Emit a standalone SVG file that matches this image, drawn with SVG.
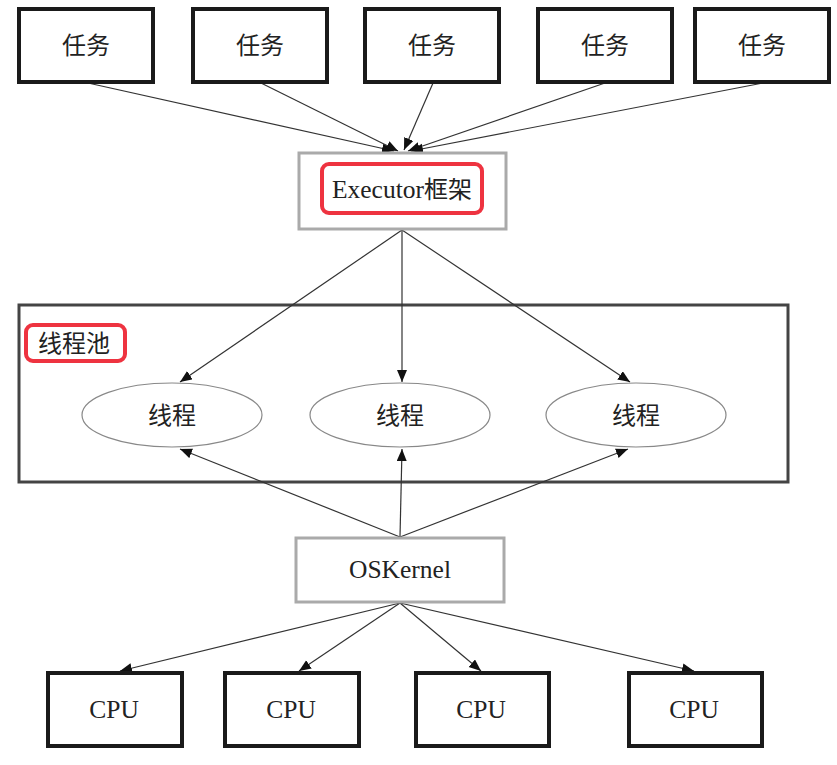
<svg xmlns="http://www.w3.org/2000/svg" width="837" height="765" viewBox="0 0 837 765">
<style>
.task{fill:#fff;stroke:#1a1a1a;stroke-width:4}
.gray{fill:#fff;stroke:#aaaaaa;stroke-width:3}
.pool{fill:none;stroke:#444;stroke-width:3}
.ell{fill:#fff;stroke:#888;stroke-width:1.2}
.hl{fill:none;stroke:#ee3340;stroke-width:4}
.t{font-family:"Liberation Serif","Noto Sans CJK SC",serif;font-size:24px;fill:#222;text-anchor:middle}
.l{font-size:25.5px}
.con line{stroke:#333;stroke-width:1.2;marker-end:url(#ah)}
</style>
<defs>
<marker id="ah" markerUnits="userSpaceOnUse" markerWidth="13" markerHeight="11" refX="12" refY="5" orient="auto">
<path d="M0,0 L12,5 L0,10 z" fill="#111"/>
</marker>
</defs>
<rect width="837" height="765" fill="#fff"/>
<g id="pool">
<rect class="pool" x="19" y="305" width="769" height="177"/>
<rect class="hl" x="26" y="325" width="99" height="36" rx="7"/>
<text class="t" x="74" y="352">线程池</text>
</g>
<g class="con">
<line x1="88" y1="83" x2="394" y2="151"/>
<line x1="261" y1="83" x2="398" y2="151"/>
<line x1="433" y1="83" x2="404" y2="150"/>
<line x1="605" y1="83" x2="408" y2="151"/>
<line x1="763" y1="83" x2="411" y2="151"/>
<line x1="402" y1="230" x2="180" y2="382"/>
<line x1="402" y1="230" x2="402" y2="382"/>
<line x1="402" y1="230" x2="630" y2="382"/>
<line x1="400" y1="537" x2="180" y2="449"/>
<line x1="400" y1="537" x2="402" y2="449"/>
<line x1="400" y1="537" x2="628" y2="449"/>
<line x1="400" y1="603" x2="120" y2="671"/>
<line x1="400" y1="603" x2="299" y2="671"/>
<line x1="400" y1="603" x2="481" y2="671"/>
<line x1="400" y1="603" x2="694" y2="671"/>
</g>
<g id="task1"><rect class="task" x="19" y="9" width="134" height="73"/><text class="t" x="86" y="54">任务</text></g>
<g id="task2"><rect class="task" x="193" y="9" width="134" height="73"/><text class="t" x="260" y="54">任务</text></g>
<g id="task3"><rect class="task" x="365" y="9" width="134" height="73"/><text class="t" x="432" y="54">任务</text></g>
<g id="task4"><rect class="task" x="538" y="9" width="134" height="73"/><text class="t" x="605" y="54">任务</text></g>
<g id="task5"><rect class="task" x="695" y="9" width="134" height="73"/><text class="t" x="762" y="54">任务</text></g>
<g id="executor">
<rect class="gray" x="299" y="153" width="207" height="76"/>
<rect class="hl" x="322" y="164" width="160" height="49" rx="7"/>
<text class="t" x="402" y="198"><tspan class="l">Executor</tspan>框架</text>
</g>
<g id="thread1"><ellipse class="ell" cx="172" cy="415" rx="90" ry="32"/><text class="t" x="172" y="424">线程</text></g>
<g id="thread2"><ellipse class="ell" cx="400" cy="415" rx="90" ry="32"/><text class="t" x="400" y="424">线程</text></g>
<g id="thread3"><ellipse class="ell" cx="636" cy="415" rx="90" ry="32"/><text class="t" x="636" y="424">线程</text></g>
<g id="oskernel"><rect class="gray" x="296" y="538" width="208" height="64"/><text class="t l" x="400" y="578">OSKernel</text></g>
<g id="cpu1"><rect class="task" x="48" y="673" width="134" height="73"/><text class="t l" x="114" y="718">CPU</text></g>
<g id="cpu2"><rect class="task" x="225" y="673" width="134" height="73"/><text class="t l" x="291" y="718">CPU</text></g>
<g id="cpu3"><rect class="task" x="416" y="673" width="133" height="73"/><text class="t l" x="481" y="718">CPU</text></g>
<g id="cpu4"><rect class="task" x="629" y="673" width="133" height="73"/><text class="t l" x="694" y="718">CPU</text></g>
</svg>
